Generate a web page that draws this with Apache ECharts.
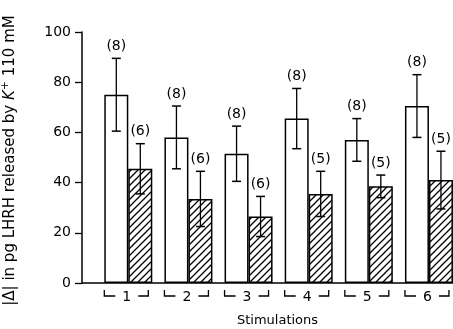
<!DOCTYPE html>
<html>
<head>
<meta charset="utf-8">
<script src="https://cdn.jsdelivr.net/npm/echarts@6/dist/echarts.min.js"></script>
<style>
  html, body { margin: 0; padding: 0; background: #fff; }
  #chart { width: 453px; height: 329px; }
</style>
</head>
<body>
<div id="chart"></div>
<script>
// stimulation numbers
var stims = [1, 2, 3, 4, 5, 6];
// open bars (control) mean / error / n
var openMean = [75, 58, 51.5, 65.5, 57, 70.5];
var openErr = [14.5, 12.5, 11, 12, 8.5, 12.5];
var openN = [8, 8, 8, 8, 8, 8];
// hatched bars mean / error / n
var hatchMean = [45.5, 33.5, 26.5, 35.5, 38.5, 41];
var hatchErr = [10, 11, 8, 9, 4.5, 11.5];
var hatchN = [6, 6, 6, 5, 5, 5];
// y ticks
var yTicks = [0, 20, 40, 60, 80, 100];

var FONT = 'DejaVu Sans';

// diagonal hatch pattern
function hatch() {
  var c = document.createElement('canvas');
  var s = 7;
  c.width = s;
  c.height = s;
  var g = c.getContext('2d');
  g.fillStyle = '#fff';
  g.fillRect(0, 0, s, s);
  g.strokeStyle = '#000';
  g.lineWidth = 1.3;
  g.beginPath();
  g.moveTo(-1, s + 1); g.lineTo(s + 1, -1);
  g.moveTo(-1, 1); g.lineTo(1, -1);
  g.moveTo(s - 1, s + 1); g.lineTo(s + 1, s - 1);
  g.stroke();
  return c;
}

function pairs(xs, ys) {
  return xs.map(function (x, i) { return [x, ys[i]]; });
}

function errData(mean, err, n) {
  return stims.map(function (x, i) { return [x, mean[i], err[i], n[i]]; });
}

function errRender(side) {
  return function (params, api) {
    var x = api.value(0), m = api.value(1), e = api.value(2), n = api.value(3);
    var hi = api.coord([x, m + e]);
    var lo = api.coord([x, m - e]);
    var cx = hi[0] + side * 12;
    var cap = 4.5;
    return {
      type: 'group',
      children: [
        {type: 'line', shape: {x1: cx, y1: hi[1], x2: cx, y2: lo[1]}, style: {stroke: '#000', lineWidth: 1.3}},
        {type: 'line', shape: {x1: cx - cap, y1: hi[1], x2: cx + cap, y2: hi[1]}, style: {stroke: '#000', lineWidth: 1.5}},
        {type: 'line', shape: {x1: cx - cap, y1: lo[1], x2: cx + cap, y2: lo[1]}, style: {stroke: '#000', lineWidth: 1.5}},
        {type: 'text', style: {text: '(' + n + ')', x: cx, y: hi[1] - 12, align: 'center', verticalAlign: 'middle',
          fontFamily: FONT, fontSize: 14, fill: '#000'}}
      ]
    };
  };
}

function bracketRender(params, api) {
  var x = api.value(0);
  var p = api.coord([x, 0]);
  var cx = p[0];
  var y = p[1] + 13;
  return {
    type: 'group',
    children: [
      {type: 'polyline', shape: {points: [[cx - 24, y - 6], [cx - 24, y], [cx - 13, y]]}, style: {stroke: '#000', lineWidth: 1.3, fill: null}},
      {type: 'polyline', shape: {points: [[cx + 10, y], [cx + 20, y], [cx + 20, y - 6]]}, style: {stroke: '#000', lineWidth: 1.3, fill: null}},
      {type: 'text', style: {text: String(x), x: cx - 1.5, y: y + 1, align: 'center', verticalAlign: 'middle',
        fontFamily: FONT, fontSize: 14, fill: '#000'}}
    ]
  };
}

var chart = echarts.init(document.getElementById('chart'));
var option = {
  animation: false,
  textStyle: {fontFamily: FONT, color: '#000'},
  grid: {left: 82, right: 0, top: 32, bottom: 46, outerBoundsMode: 'none', containLabel: false},
  xAxis: {
    type: 'value',
    min: 0.23,
    max: 6.4,
    axisLine: {show: true, onZero: false, lineStyle: {color: '#000', width: 1.5}},
    axisTick: {show: false},
    axisLabel: {show: false},
    splitLine: {show: false},
    name: 'Stimulations',
    nameLocation: 'middle',
    nameGap: 31,
    nameTextStyle: {fontFamily: FONT, fontSize: 13, color: '#000', padding: [0, 0, 0, 20]}
  },
  yAxis: {
    type: 'value',
    min: yTicks[0],
    max: yTicks[yTicks.length - 1],
    interval: 20,
    axisLine: {show: true, lineStyle: {color: '#000', width: 1.5}},
    axisTick: {show: true, length: 7, lineStyle: {color: '#000', width: 1.3}},
    axisLabel: {color: '#000', fontSize: 14, fontFamily: FONT, margin: 11},
    splitLine: {show: false},
    name: '|Δ| in pg LHRH released by {k|K}{sup|+} 110 mM',
    nameLocation: 'middle',
    nameRotate: 90,
    nameGap: 62,
    nameTextStyle: {
      fontFamily: FONT, fontSize: 15, color: '#000', padding: [0, 6, 0, 0],
      rich: {
        k: {fontFamily: FONT, fontSize: 15, fontStyle: 'italic', color: '#000'},
        sup: {fontFamily: FONT, fontSize: 11, color: '#000', verticalAlign: 'top', padding: [0, 0, 9, 0]}
      }
    }
  },
  series: [
    {
      type: 'bar',
      barWidth: 24,
      barGap: '0%',
      data: pairs(stims, openMean),
      itemStyle: {color: '#fff', borderColor: '#000', borderWidth: 1.5}
    },
    {
      type: 'bar',
      barWidth: 24,
      barGap: '0%',
      data: pairs(stims, hatchMean),
      itemStyle: {color: {image: hatch(), repeat: 'repeat'}, borderColor: '#000', borderWidth: 1.5}
    },
    {
      type: 'custom',
      clip: false,
      renderItem: errRender(-1),
      data: errData(openMean, openErr, openN),
      z: 5
    },
    {
      type: 'custom',
      clip: false,
      renderItem: errRender(1),
      data: errData(hatchMean, hatchErr, hatchN),
      z: 5
    },
    {
      type: 'custom',
      clip: false,
      renderItem: bracketRender,
      data: stims.map(function (s) { return [s]; }),
      z: 5
    }
  ]
};
chart.setOption(option);
</script>
</body>
</html>
